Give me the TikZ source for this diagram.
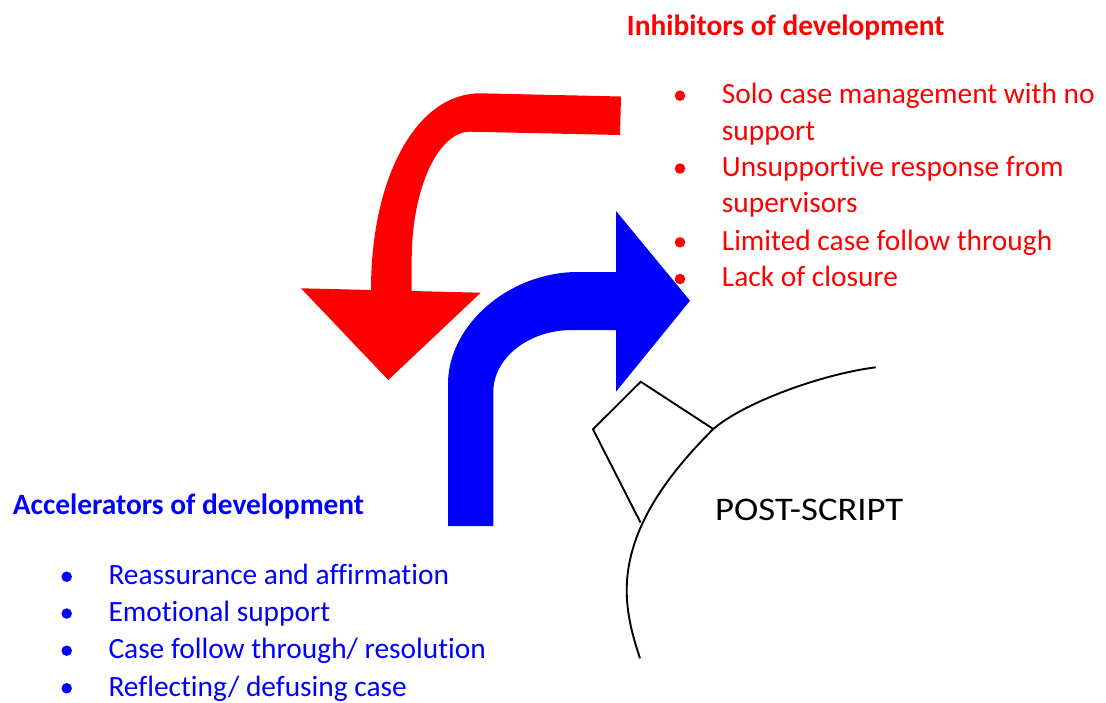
\documentclass[tikz,border=0pt]{standalone}
\usepackage{fontspec}
\setmainfont{Carlito}[Ligatures=NoCommon]
\begin{document}
\begin{tikzpicture}[x=1pt,y=-1pt,
  txt/.style={anchor=base west, inner sep=0pt, font=\fontsize{29.4}{35}\selectfont},
  redtxt/.style={txt, text=red},
  bluetxt/.style={txt, text=blue},
  titlefont/.style={font=\bfseries\fontsize{29.4}{35}\selectfont},
  dotmark/.style={circle, inner sep=0pt, minimum size=10.5pt, draw=none},
  outline/.style={draw=black, line width=1.9pt, line join=miter}]
\useasboundingbox (0,0) rectangle (1106,702);

% red arrow (inhibitors)
\fill[red] (621,96.5) -- (480,93.3)
  .. controls (417,93.3) and (371,176) .. (371,290)
  -- (301,288.3) -- (388.3,380) -- (480.7,292.7) -- (411.7,291)
  -- (411.7,260)
  .. controls (411.7,189) and (437.8,131.7) .. (470,131.7)
  -- (620,135) -- cycle;

% blue arrow (accelerators)
\fill[blue] (448,526) -- (448,384)
  .. controls (448,325) and (509,272) .. (578,272)
  -- (616,272) -- (616,211) -- (690,300.7) -- (616,391.7) -- (616,330)
  -- (572,330)
  .. controls (528.7,330) and (493.3,357.9) .. (493.3,392)
  -- (493.3,526) -- cycle;

% post-script shape
\coordinate (arcA) at (875.7,367.3);
\coordinate (arcD) at (713.3,429);
\coordinate (arcG) at (626.7,590);
\coordinate (arcH) at (640,658.3);
\coordinate (kF) at (640.5,522.5);
\coordinate (kL) at (593,429.3);
\coordinate (kT) at (640.7,381.7);
\draw[outline] (kF) -- (kL) -- (kT) -- (arcD);
\draw[outline] (arcA) .. controls (820.7,374.3) and (743.3,403) .. (arcD)
  .. controls (673.3,469) and (626.7,525) .. (arcG)
  .. controls (626.7,615) and (633,637.3) .. (arcH);
\node[txt, font=\fontsize{33}{38}\selectfont, xscale=1.11] (ps) at (715,520) {POST-SCRIPT};

% inhibitors text
\node[redtxt, titlefont] (rtitle) at (626.7,35) {Inhibitors of development};
\node[dotmark, fill=red] (rb1) at (680,95.7) {};
\node[dotmark, fill=red] (rb2) at (680,168.5) {};
\node[dotmark, fill=red] (rb3) at (680,242.3) {};
\node[dotmark, fill=red] (rb4) at (680,279) {};
\node[redtxt] (r1a) at (721.7,103.3) {Solo case management with no};
\node[redtxt] (r1b) at (721.7,140) {support};
\node[redtxt] (r2a) at (721.7,176.5) {Unsupportive response from};
\node[redtxt] (r2b) at (721.7,212.7) {supervisors};
\node[redtxt] (r3) at (721.7,250) {Limited case follow through};
\node[redtxt] (r4) at (721.7,286.7) {Lack of closure};

% accelerators text
\node[bluetxt, titlefont] (btitle) at (12.7,514.3) {Accelerators of development};
\node[dotmark, fill=blue] (bb1) at (66.7,576.7) {};
\node[dotmark, fill=blue] (bb2) at (66.7,613.5) {};
\node[dotmark, fill=blue] (bb3) at (66.7,650.7) {};
\node[dotmark, fill=blue] (bb4) at (66.7,688.3) {};
\node[bluetxt] (b1) at (108.3,584.3) {Reassurance and affirmation};
\node[bluetxt] (b2) at (108.3,621) {Emotional support};
\node[bluetxt] (b3) at (108.3,658.3) {Case follow through/ resolution};
\node[bluetxt] (b4) at (108.3,696) {Reflecting/ defusing case};
\end{tikzpicture}
\end{document}
